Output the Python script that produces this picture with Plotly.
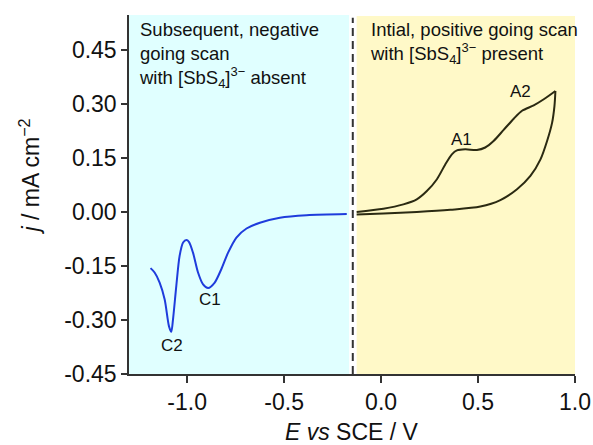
import plotly.graph_objects as go

# Initial positive-going scan (with [SbS4]3- present): forward branch
fwd_E = [-0.126, 0.012, 0.115, 0.184, 0.236, 0.288, 0.331, 0.365, 0.391, 0.434,
         0.494, 0.537, 0.580, 0.632, 0.684, 0.727, 0.787, 0.839, 0.899]
fwd_j = [0.000, 0.009, 0.021, 0.035, 0.058, 0.091, 0.132, 0.160, 0.171, 0.174,
         0.172, 0.179, 0.197, 0.228, 0.259, 0.281, 0.296, 0.313, 0.336]

# Return branch of the same scan
rev_E = [0.899, 0.894, 0.882, 0.856, 0.822, 0.770, 0.701, 0.615, 0.512, 0.357,
         0.184, 0.012, -0.126]
rev_j = [0.336, 0.294, 0.248, 0.197, 0.146, 0.100, 0.063, 0.033, 0.015, 0.006,
         0.000, -0.004, -0.007]

# Subsequent negative-going scan (with [SbS4]3- absent)
neg_E = [-0.177, -0.384, -0.522, -0.625, -0.694, -0.746, -0.789, -0.824, -0.858,
         -0.892, -0.918, -0.944, -0.970, -0.991, -1.004, -1.021, -1.039, -1.056,
         -1.073, -1.082, -1.094, -1.116, -1.142, -1.168, -1.189]
neg_j = [-0.006, -0.009, -0.016, -0.030, -0.046, -0.071, -0.113, -0.159, -0.196,
         -0.211, -0.201, -0.168, -0.113, -0.083, -0.078, -0.085, -0.122, -0.205,
         -0.298, -0.333, -0.317, -0.243, -0.196, -0.168, -0.156]

# Peak labels
peak_names = ["A1", "A2", "C1", "C2"]
peak_E = [0.415, 0.721, -0.884, -1.079]
peak_j = [0.202, 0.335, -0.244, -0.370]

# Region boundaries (V vs SCE)
E_MIN, E_MAX = -1.3, 1.0
E_SWITCH = -0.146
J_MIN, J_MAX = -0.45, 0.547

y_ticks = [-0.45, -0.30, -0.15, 0.00, 0.15, 0.30, 0.45]
x_ticks = [-1.0, -0.5, 0.0, 0.5, 1.0]

FONT = "Liberation Sans, Arial, sans-serif"
BLUE = "#1f3cdc"
DARK = "#2b2a12"

fig = go.Figure()

fig.add_trace(go.Scatter(x=neg_E, y=neg_j, mode="lines",
                         line=dict(color=BLUE, width=2, shape="spline", smoothing=0.8),
                         hoverinfo="skip"))
fig.add_trace(go.Scatter(x=fwd_E, y=fwd_j, mode="lines",
                         line=dict(color=DARK, width=2, shape="spline", smoothing=0.8),
                         hoverinfo="skip"))
fig.add_trace(go.Scatter(x=rev_E, y=rev_j, mode="lines",
                         line=dict(color=DARK, width=2, shape="spline", smoothing=0.8),
                         hoverinfo="skip"))

# Shaded regions and scan-reversal marker
fig.add_shape(type="rect", xref="x", yref="paper", x0=E_MIN, x1=E_SWITCH - 0.019,
              y0=0, y1=1, fillcolor="#e0ffff", line_width=0, layer="below")
fig.add_shape(type="rect", xref="x", yref="paper", x0=E_SWITCH + 0.02, x1=E_MAX,
              y0=0, y1=0.997, fillcolor="#fff9c8", line_width=0, layer="below")
fig.add_shape(type="line", xref="x", yref="paper", x0=E_SWITCH, x1=E_SWITCH,
              y0=0, y1=0.992, line=dict(color="#333333", width=2, dash="8px,5px"))

for name, ex, jy in zip(peak_names, peak_E, peak_j):
    fig.add_annotation(x=ex, y=jy, text=name, showarrow=False,
                       font=dict(size=17, color="#111111", family=FONT))

fig.add_annotation(x=-1.261, y=0.995, xref="x", yref="paper", xanchor="left", yanchor="top",
                   align="left", showarrow=False,
                   text="Subsequent, negative<br>going scan<br>with [SbS<sub>4</sub>]<sup>3−</sup> absent",
                   font=dict(size=18.5, color="#111111", family=FONT))
fig.add_annotation(x=-0.065, y=0.995, xref="x", yref="paper", xanchor="left", yanchor="top",
                   align="left", showarrow=False,
                   text="Intial, positive going scan<br>with [SbS<sub>4</sub>]<sup>3−</sup> present",
                   font=dict(size=18.5, color="#111111", family=FONT))

# Axis titles
fig.add_annotation(x=0.5, y=-0.162, xref="paper", yref="paper", showarrow=False,
                   xanchor="center", yanchor="middle",
                   text="<i>E vs</i> SCE / V", font=dict(size=23, color="#111111", family=FONT))
fig.add_annotation(x=-0.223, y=0.549, xref="paper", yref="paper", showarrow=False,
                   xanchor="center", yanchor="middle", textangle=-90,
                   text="<i>j</i> / mA cm<sup>−2</sup>", font=dict(size=23, color="#111111", family=FONT))

fig.update_layout(
    width=593, height=445,
    margin=dict(l=129, r=18, t=15, b=71, autoexpand=False),
    paper_bgcolor="white", plot_bgcolor="white",
    showlegend=False,
    font=dict(family=FONT, color="#111111"),
)
fig.update_xaxes(range=[E_MIN, E_MAX], tickvals=x_ticks, automargin=False,
                 ticktext=[f"{v:.1f}" for v in x_ticks],
                 showgrid=False, zeroline=False, showline=True, linecolor="#333333", linewidth=1.5,
                 ticks="outside", ticklen=7, tickwidth=1.5, tickcolor="#333333",
                 tickfont=dict(size=23, family=FONT, color="#111111"))
fig.update_yaxes(range=[J_MIN, J_MAX], tickvals=y_ticks, automargin=False,
                 ticktext=[f"{v:.2f}" for v in y_ticks],
                 showgrid=False, zeroline=False, showline=True, linecolor="#333333", linewidth=1.5,
                 ticks="outside", ticklen=6, tickwidth=1.5, tickcolor="#333333",
                 tickfont=dict(size=23, family=FONT, color="#111111"))

fig.write_html("out.html")
